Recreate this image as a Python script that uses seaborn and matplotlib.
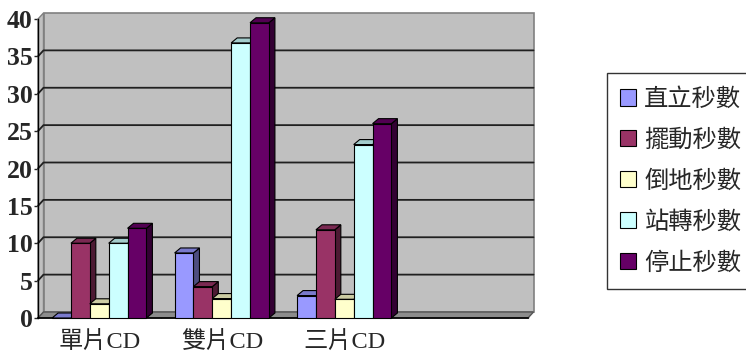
import matplotlib
matplotlib.use("Agg")
import matplotlib.pyplot as plt
import seaborn as sns
import pandas as pd
import numpy as np
from matplotlib.patches import Polygon, Patch, Rectangle
from matplotlib.lines import Line2D

# ---- data -------------------------------------------------------------
categories = ["單片CD", "雙片CD", "三片CD"]
series = ["直立秒數", "擺動秒數", "倒地秒數", "站轉秒數", "停止秒數"]
upright = [0, 8.7, 3.0]
swing = [10, 4.2, 11.8]
fallen = [1.9, 2.6, 2.5]
spin = [10, 36.8, 23.2]
stop = [12, 39.5, 26]
colors = ["#9999FF", "#993366", "#FFFFCC", "#CCFFFF", "#660066"]
y_ticks = [0, 5, 10, 15, 20, 25, 30, 35, 40]

values = [upright, swing, fallen, spin, stop]
rows = []
for s, vals in zip(series, values):
    for c, v in zip(categories, vals):
        rows.append({"類別": c, "項目": s, "秒數": v})
df = pd.DataFrame(rows)

# ---- figure -----------------------------------------------------------
sns.set_style("white")
plt.rcParams["font.family"] = ["Liberation Serif", "Noto Sans CJK TC", "DejaVu Sans"]

W, H = 746, 362
fig = plt.figure(figsize=(W / 100, H / 100), dpi=100)
ax_l, ax_r, ax_b, ax_t = 38, 528, 318, 19
ax = fig.add_axes([ax_l / W, (H - ax_b) / H, (ax_r - ax_l) / W, (ax_b - ax_t) / H])
ax.set_facecolor("none")

sns.barplot(data=df, x="類別", y="秒數", hue="項目", order=categories,
            hue_order=series, palette=colors, saturation=1, width=0.77,
            edgecolor="black", linewidth=0.8, errorbar=None, legend=False, ax=ax)
bars = sorted([p for p in ax.patches if isinstance(p, Rectangle)], key=lambda p: p.get_x())

n_slots = 4
ax.set_xlim(-0.5, n_slots - 0.5)
ax.set_ylim(0, 40)

# pixel -> data unit conversion for the depth offsets
px_x = (ax_r - ax_l) / n_slots
px_y = (ax_b - ax_t) / 40.0
wall_dx, wall_dy = 5.5 / px_x, 6.0 / px_y   # depth of the chart box
bar_dx, bar_dy = 6.0 / px_x, 5.0 / px_y     # depth of each column

x0, x1 = -0.5, n_slots - 0.5

# back wall, side wall and floor
wall = Polygon([(x0 + wall_dx, wall_dy), (x1 + wall_dx, wall_dy),
                (x1 + wall_dx, 40 + wall_dy), (x0 + wall_dx, 40 + wall_dy)],
               closed=True, facecolor="#C0C0C0", edgecolor="#808080",
               linewidth=1.2, zorder=0.5, clip_on=False)
ax.add_patch(wall)
side = Polygon([(x0, 0), (x0 + wall_dx, wall_dy), (x0 + wall_dx, 40 + wall_dy), (x0, 40)],
               closed=True, facecolor="#C0C0C0", edgecolor="#808080",
               linewidth=1.0, zorder=0.6, clip_on=False)
ax.add_patch(side)
floor = Polygon([(x0, 0), (x1, 0), (x1 + wall_dx, wall_dy), (x0 + wall_dx, wall_dy)],
                closed=True, facecolor="#8C8C8C", edgecolor="#555555",
                linewidth=1.0, zorder=0.7, clip_on=False)
ax.add_patch(floor)

# gridlines running across the side wall and the back wall
for v in y_ticks[1:-1]:
    ax.add_line(Line2D([x0, x0 + wall_dx, x1 + wall_dx], [v, v + wall_dy, v + wall_dy],
                       color="#202020", linewidth=1.3, zorder=0.8, clip_on=False))

# columns with top and side faces
for i, b in enumerate(bars):
    bx, bw, bh = b.get_x(), b.get_width(), b.get_height()
    fc = np.array(matplotlib.colors.to_rgb(b.get_facecolor()))
    base = 3 + i * 0.01
    side_face = Polygon([(bx + bw, 0), (bx + bw + bar_dx, bar_dy),
                         (bx + bw + bar_dx, bh + bar_dy), (bx + bw, bh)],
                        closed=True, facecolor=fc * 0.5, edgecolor="black",
                        linewidth=0.8, zorder=base, clip_on=False)
    top_face = Polygon([(bx, bh), (bx + bw, bh), (bx + bw + bar_dx, bh + bar_dy),
                        (bx + bar_dx, bh + bar_dy)],
                       closed=True, facecolor=fc * 0.8, edgecolor="black",
                       linewidth=0.8, zorder=base + 0.003, clip_on=False)
    ax.add_patch(side_face)
    ax.add_patch(top_face)
    b.set_zorder(base + 0.006)
    b.set_clip_on(False)

# axes styling
for s in ["top", "right"]:
    ax.spines[s].set_visible(False)
ax.spines["left"].set_color("black")
ax.spines["bottom"].set_color("black")
ax.spines["left"].set_linewidth(1.0)
ax.spines["bottom"].set_linewidth(1.2)
ax.spines["left"].set_zorder(1)
ax.spines["bottom"].set_zorder(1)

ax.set_yticks(y_ticks)
ax.set_yticklabels([str(t) for t in y_ticks])
ax.tick_params(axis="y", direction="out", length=3, width=1, pad=1, left=True)
for lab in ax.get_yticklabels():
    lab.set_fontsize(18.5)
    lab.set_fontweight("bold")
    lab.set_family(["Liberation Serif"])

ax.set_xticks(range(len(categories)))
ax.set_xticklabels(categories)
ax.tick_params(axis="x", length=0, pad=9)
ax.set_xticks([0.5, 1.5, 2.5, 3.5], minor=True)
ax.tick_params(axis="x", which="minor", direction="in", length=4.5, width=1,
               color="#333333", bottom=True)
for lab in ax.get_xticklabels():
    lab.set_fontsize(17.5)
    lab.set_family(["Liberation Serif", "Noto Sans CJK TC"])

ax.set_xlabel("")
ax.set_ylabel("")
ax.grid(False)

# legend
handles = [Patch(facecolor=c, edgecolor="black", linewidth=0.8) for c in colors]
leg = fig.legend(handles, series, loc="upper left",
                 bbox_to_anchor=(606.7 / W, 1 - 72.7 / H), bbox_transform=fig.transFigure,
                 frameon=True, fancybox=False, edgecolor="black", borderaxespad=0,
                 prop={"family": ["Noto Sans CJK TC"], "size": 17.5},
                 handlelength=0.65, handleheight=0.65, handletextpad=0.35,
                 labelspacing=0.61, borderpad=0.55)
leg.get_frame().set_linewidth(1.0)

fig.savefig("out.png", dpi=100)
